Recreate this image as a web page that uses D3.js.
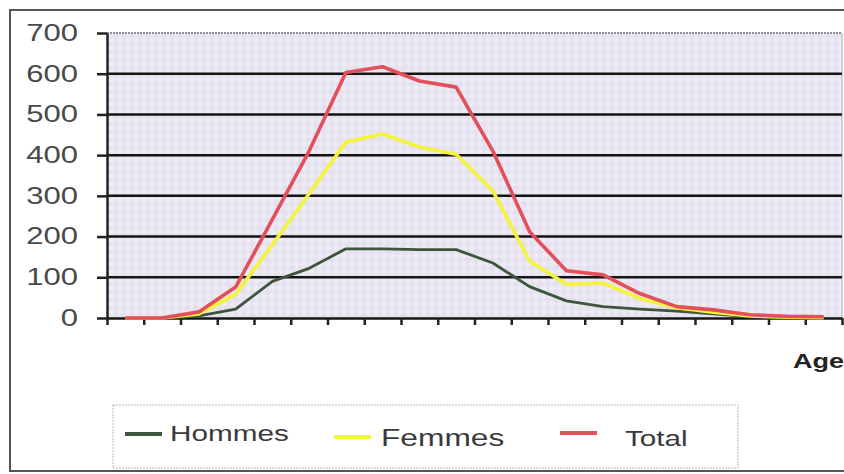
<!DOCTYPE html>
<html>
<head>
<meta charset="utf-8">
<script src="https://cdn.jsdelivr.net/npm/d3@7"></script>
<style>
  body { margin: 0; background: #fff; }
  svg { display: block; font-family: "Liberation Sans", Arial, sans-serif; }
</style>
</head>
<body>
<svg width="844" height="474"></svg>
<script>
// age groups (not labelled on the chart)
var categories = ["0-4", "5-9", "10-14", "15-19", "20-24", "25-29", "30-34", "35-39", "40-44", "45-49",
                  "50-54", "55-59", "60-64", "65-69", "70-74", "75-79", "80-84", "85-89", "90-94", "95+"];

var hommes = [0, 0, 5, 22, 90, 122, 170, 170, 168, 168, 135, 77, 42, 28, 22, 17, 10, 3, 1, 0];
var femmes = [0, 0, 10, 58, 180, 305, 432, 452, 420, 402, 312, 140, 83, 86, 48, 25, 14, 5, 2, 1];
var total  = [0, 0, 15, 76, 242, 410, 603, 617, 582, 567, 410, 212, 116, 106, 60, 28, 20, 8, 4, 3];

var yTicks = [0, 100, 200, 300, 400, 500, 600, 700];
var seriesNames = ["Hommes", "Femmes", "Total"];
var xTitle = "Age";

var svg = d3.select("svg"),
    pLeft = 107, pRight = 842, pTop = 33, pBottom = 318,
    stretch = 1.35;   // the original picture is squeezed wide

var x = d3.scaleBand().domain(categories).range([pLeft, pRight]),
    xEdge = d3.scaleLinear().domain([0, categories.length]).range([pLeft, pRight]),
    y = d3.scaleLinear().domain([0, 700]).range([pBottom, pTop]),
    z = d3.scaleOrdinal().domain(seriesNames).range(["#3d553d", "#f4f43a", "#e4505a"]);

// outer frame
svg.append("path")
    .attr("d", "M844,10 H10 V471 H844")
    .attr("fill", "none")
    .attr("stroke", "#555")
    .attr("stroke-width", 2);

// textured lavender plot background
var defs = svg.append("defs");
var pat = defs.append("pattern")
    .attr("id", "tex")
    .attr("width", 8).attr("height", 8)
    .attr("patternUnits", "userSpaceOnUse");
pat.append("rect").attr("width", 8).attr("height", 8).attr("fill", "#eceaf4");
pat.append("path").attr("d", "M4,0 L8,4 L4,8 L0,4 Z").attr("fill", "#e4e0ee");

svg.append("rect")
    .attr("x", pLeft).attr("y", pTop)
    .attr("width", pRight - pLeft).attr("height", pBottom - pTop)
    .attr("fill", "url(#tex)");

// top and right border of plot
svg.append("line")
    .attr("x1", pLeft).attr("x2", pRight).attr("y1", pTop).attr("y2", pTop)
    .attr("stroke", "#8d8b98").attr("stroke-width", 2).attr("stroke-dasharray", "2,1");
svg.append("line")
    .attr("x1", pRight).attr("x2", pRight).attr("y1", pTop).attr("y2", pBottom)
    .attr("stroke", "#c4c2cc").attr("stroke-width", 1.5);

// gridlines
svg.append("g")
  .selectAll("line")
  .data(yTicks.filter(function(d) { return d > 0 && d < 700; }))
  .enter().append("line")
    .attr("x1", pLeft).attr("x2", pRight)
    .attr("y1", function(d) { return y(d); })
    .attr("y2", function(d) { return y(d); })
    .attr("stroke", "#141414")
    .attr("stroke-width", 2.5);

// y axis
var yAxis = svg.append("g")
    .attr("transform", "translate(" + pLeft + ",0)")
    .call(d3.axisLeft(y).tickValues(yTicks).tickSizeInner(10).tickSizeOuter(0));
yAxis.select(".domain").attr("stroke", "#222").attr("stroke-width", 2.5);
yAxis.selectAll(".tick line").attr("stroke", "#222").attr("stroke-width", 2.5);
yAxis.selectAll("text")
    .attr("x", -29 / stretch)
    .attr("transform", "scale(" + stretch + ",1)")
    .style("font-size", "23px")
    .attr("fill", "#4a4a4a");

// x axis: ticks sit between age groups
var xAxis = svg.append("g")
    .attr("transform", "translate(0," + pBottom + ")")
    .call(d3.axisBottom(xEdge).tickValues(d3.range(categories.length + 1))
      .tickFormat("").tickSizeInner(7).tickSizeOuter(0));
xAxis.select(".domain").attr("stroke", "#141414").attr("stroke-width", 2.5);
xAxis.selectAll(".tick line").attr("stroke", "#222").attr("stroke-width", 2.5);

svg.append("text")
    .attr("x", 793 / stretch).attr("y", 368)
    .attr("transform", "scale(" + stretch + ",1)")
    .attr("font-weight", "bold")
    .style("font-size", "20px")
    .attr("fill", "#222")
    .text(xTitle);

// lines
var line = d3.line()
    .x(function(d, i) { return x(categories[i]) + x.bandwidth() / 2; })
    .y(function(d) { return y(d); });

var series = [
  {name: "Hommes", values: hommes, w: 2.8},
  {name: "Femmes", values: femmes, w: 3.6},
  {name: "Total", values: total, w: 3.6}
];

svg.selectAll(".series")
  .data(series)
  .enter().append("path")
    .attr("class", "series")
    .attr("fill", "none")
    .attr("stroke-linejoin", "round")
    .attr("stroke", function(d) { return z(d.name); })
    .attr("stroke-width", function(d) { return d.w; })
    .attr("d", function(d) { return line(d.values); });

// legend
svg.append("rect")
    .attr("x", 113).attr("y", 405)
    .attr("width", 625).attr("height", 63)
    .attr("fill", "#fff")
    .attr("stroke", "#b8b8b8")
    .attr("stroke-dasharray", "2,1");

var legendPos = [
  {lx: 125, ly: 434, tx: 170, ty: 441, size: 22},
  {lx: 334, ly: 437, tx: 381, ty: 446, size: 23.5},
  {lx: 560, ly: 433, tx: 625, ty: 446, size: 22}
];

var legend = svg.selectAll(".legend")
  .data(series)
  .enter().append("g")
    .attr("class", "legend");

legend.append("line")
    .attr("x1", function(d, i) { return legendPos[i].lx; })
    .attr("x2", function(d, i) { return legendPos[i].lx + 37; })
    .attr("y1", function(d, i) { return legendPos[i].ly; })
    .attr("y2", function(d, i) { return legendPos[i].ly; })
    .attr("stroke", function(d) { return z(d.name); })
    .attr("stroke-width", 4);

legend.append("text")
    .attr("x", function(d, i) { return legendPos[i].tx / stretch; })
    .attr("y", function(d, i) { return legendPos[i].ty; })
    .attr("transform", "scale(" + stretch + ",1)")
    .style("font-size", function(d, i) { return legendPos[i].size + "px"; })
    .attr("fill", "#3a3a3a")
    .text(function(d) { return d.name; });
</script>
</body>
</html>
